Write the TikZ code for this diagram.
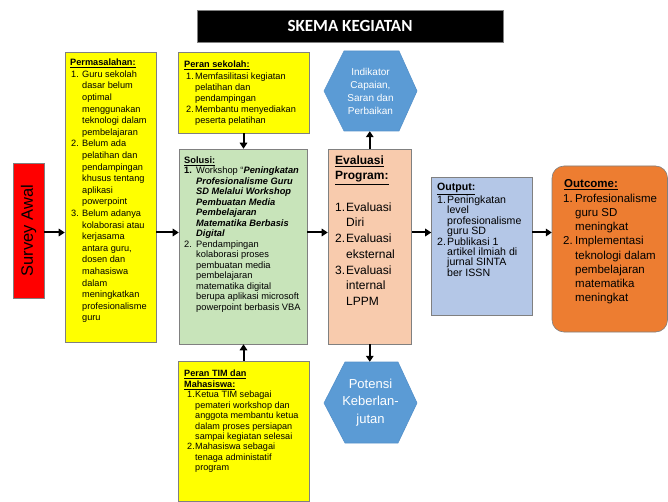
\documentclass[tikz,border=0pt]{standalone}
\usepackage{fontspec}
\setmainfont{Liberation Sans}
\newfontfamily\titlefont{Carlito}
\usetikzlibrary{fit,arrows.meta}
\definecolor{ylw}{RGB}{255,255,0}
\definecolor{grn}{RGB}{200,228,186}
\definecolor{salmon}{RGB}{248,203,173}
\definecolor{outblue}{RGB}{180,199,231}
\definecolor{orng}{RGB}{237,125,49}
\definecolor{hexblue}{RGB}{91,155,213}
\definecolor{hexedge}{RGB}{84,145,202}
\definecolor{edgegray}{RGB}{128,128,128}
\newcommand{\NB}[2]{\makebox[#1][l]{#2}}
\newcommand{\IN}[1]{\hspace*{#1}}
\newcommand{\HD}[1]{\underline{\textbf{#1}}}
\tikzset{
  x=1pt, y=-1pt,
  box/.style={inner sep=0pt, draw=edgegray, line width=0.6pt},
  txt/.style={inner sep=0pt, anchor=north west, align=left},
  arr/.style={line width=2pt, -{Triangle[length=6pt,width=7.5pt]}},
  hexagon/.style={fill=hexblue, draw=hexedge, line width=0.6pt}
}
\begin{document}
\begin{tikzpicture}
\lineskiplimit=-20pt
\useasboundingbox (0,0) rectangle (668,502);

% title
\node[box, fill=black, draw=gray, fit={(197,10)(503,42)}] (title) {};
\node[inner sep=0pt, text=white, font=\titlefont\bfseries\fontsize{17}{20}\selectfont] (ttitle) at (title.center) {SKEMA KEGIATAN};

% survey
\node[box, fill=red, fit={(13,163)(44,298)}] (survey) {};
\node[inner sep=0pt, rotate=90, font=\fontsize{16.5}{19}\selectfont] (tsurvey) at (survey.center) {Survey Awal};

% permasalahan
\node[box, fill=ylw, fit={(65,52)(156,342)}] (perm) {};
\node[txt, font=\fontsize{9.2}{11.6}\selectfont] (tperm) at (70,58.8) {%
\HD{Permasalahan:}\\
\IN{1pt}\NB{11pt}{1.}Guru sekolah\\
\IN{12pt}dasar belum\\
\IN{12pt}optimal\\
\IN{12pt}menggunakan\\
\IN{12pt}teknologi dalam\\
\IN{12pt}pembelajaran\\
\IN{1pt}\NB{11pt}{2.}Belum ada\\
\IN{12pt}pelatihan dan\\
\IN{12pt}pendampingan\\
\IN{12pt}khusus tentang\\
\IN{12pt}aplikasi\\
\IN{12pt}powerpoint\\
\IN{1pt}\NB{11pt}{3.}Belum adanya\\
\IN{12pt}kolaborasi atau\\
\IN{12pt}kerjasama\\
\IN{12pt}antara guru,\\
\IN{12pt}dosen dan\\
\IN{12pt}mahasiswa\\
\IN{12pt}dalam\\
\IN{12pt}meningkatkan\\
\IN{12pt}profesionalisme\\
\IN{12pt}guru};

% peran sekolah
\node[box, fill=ylw, fit={(178,52)(309,133)}] (sekolah) {};
\node[txt, font=\fontsize{9.2}{11.2}\selectfont] (tsekolah) at (184,61) {%
\HD{Peran sekolah:}\\
\IN{2pt}\NB{9pt}{1.}Memfasilitasi kegiatan\\
\IN{11pt}pelatihan dan\\
\IN{11pt}pendampingan\\
\IN{2pt}\NB{9pt}{2.}Membantu menyediakan\\
\IN{11pt}peserta pelatihan};

% solusi
\node[box, fill=grn, fit={(179,149)(307,344)}] (sol) {};
\node[txt, font=\fontsize{9.3}{10.5}\selectfont] (tsol) at (184,156.5) {%
\HD{Solusi:}\\
\NB{12pt}{\textbf{1.}}Workshop “\textbf{\textit{Peningkatan}}\\
\IN{12pt}\textbf{\textit{Profesionalisme Guru}}\\
\IN{12pt}\textbf{\textit{SD Melalui Workshop}}\\
\IN{12pt}\textbf{\textit{Pembuatan Media}}\\
\IN{12pt}\textbf{\textit{Pembelajaran}}\\
\IN{12pt}\textbf{\textit{Matematika Berbasis}}\\
\IN{12pt}\textbf{\textit{Digital}}\\
\NB{12pt}{2.}Pendampingan\\
\IN{12pt}kolaborasi proses\\
\IN{12pt}pembuatan media\\
\IN{12pt}pembelajaran\\
\IN{12pt}matematika digital\\
\IN{12pt}berupa aplikasi microsoft\\
\IN{12pt}powerpoint berbasis VBA};

% peran TIM
\node[box, fill=ylw, fit={(178,361)(309,501)}] (tim) {};
\node[txt, font=\fontsize{9.1}{10.45}\selectfont] (ttim) at (184,370) {%
\HD{Peran TIM dan}\\
\HD{Mahasiswa:}\\
\IN{3pt}\NB{8pt}{1.}Ketua TIM sebagai\\
\IN{11pt}pemateri workshop dan\\
\IN{11pt}anggota membantu ketua\\
\IN{11pt}dalam proses persiapan\\
\IN{11pt}sampai kegiatan selesai\\
\IN{3pt}\NB{8pt}{2.}Mahasiswa sebagai\\
\IN{11pt}tenaga administatif\\
\IN{11pt}program};

% evaluasi
\node[box, fill=salmon, fit={(328,149)(411.5,344)}] (eval) {};
\node[txt, font=\fontsize{12}{15.7}\selectfont] (teval) at (335,155.3) {%
\HD{Evaluasi}\\
\HD{Program:}\\
\mbox{}\\
\NB{11pt}{1.}Evaluasi\\
\IN{11pt}Diri\\
\NB{11pt}{2.}Evaluasi\\
\IN{11pt}eksternal\\
\NB{11pt}{3.}Evaluasi\\
\IN{11pt}internal\\
\IN{11pt}LPPM};

% hexagons
\fill[hexagon] (324,91) -- (344,51) -- (399,51) -- (417,91) -- (399,131) -- (344,131) -- cycle;
\node[inner sep=0pt, minimum width=93pt, minimum height=80pt, align=center, text=white,
      font=\fontsize{10}{13}\selectfont] (hex1) at (370.5,91) {Indikator\\Capaian,\\Saran dan\\Perbaikan};
\fill[hexagon] (324,403) -- (345,362) -- (398,362) -- (417,403) -- (398,443) -- (345,443) -- cycle;
\node[inner sep=0pt, minimum width=93pt, minimum height=81pt, align=center, text=white,
      font=\fontsize{13}{17.5}\selectfont] (hex2) at (370.5,402.5) {Potensi\\Keberlan-\\jutan};

% output
\node[box, fill=outblue, draw=gray, fit={(431.5,177)(532,315)}] (out) {};
\node[txt, font=\fontsize{10.6}{10.4}\selectfont] (tout) at (437,183) {%
\HD{Output:}\\[2.5pt]
\NB{10pt}{1.}Peningkatan\\
\IN{10pt}level\\
\IN{10pt}profesionalisme\\
\IN{10pt}guru SD\\
\NB{10pt}{2.}Publikasi 1\\
\IN{10pt}artikel ilmiah di\\
\IN{10pt}jurnal SINTA\\
\IN{10pt}ber ISSN};

% outcome
\draw[fill=orng, draw=gray, line width=0.6pt, rounded corners=12pt] (552,166) rectangle (667.5,332);
\node[inner sep=0pt, fit={(552,166)(667.5,332)}] (outc) {};
\node[txt, font=\fontsize{11.5}{14.25}\selectfont] (toutc) at (563,179.6) {%
\IN{1pt}\HD{Outcome:}\\
\NB{12pt}{1.}Profesionalisme\\
\IN{12pt}guru SD\\
\IN{12pt}meningkat\\
\NB{12pt}{2.}Implementasi\\
\IN{12pt}teknologi dalam\\
\IN{12pt}pembelajaran\\
\IN{12pt}matematika\\
\IN{12pt}meningkat};

% arrows
\coordinate (row) at (0,232.5);
\draw[arr] (survey.east |- row) -- (perm.west |- row);
\draw[arr] (perm.east |- row) -- (sol.west |- row);
\draw[arr] (sekolah.south) -- (sekolah.south |- sol.north);
\draw[arr] (tim.north) -- (tim.north |- sol.south);
\draw[arr] (sol.east |- row) -- (eval.west |- row);
\draw[arr] (eval.north) -- (eval.north |- hex1.south);
\draw[arr] (eval.south) -- (eval.south |- hex2.north);
\draw[arr] (eval.east |- row) -- (out.west |- row);
\draw[arr] (out.east |- row) -- (outc.west |- row);
\end{tikzpicture}
\end{document}
